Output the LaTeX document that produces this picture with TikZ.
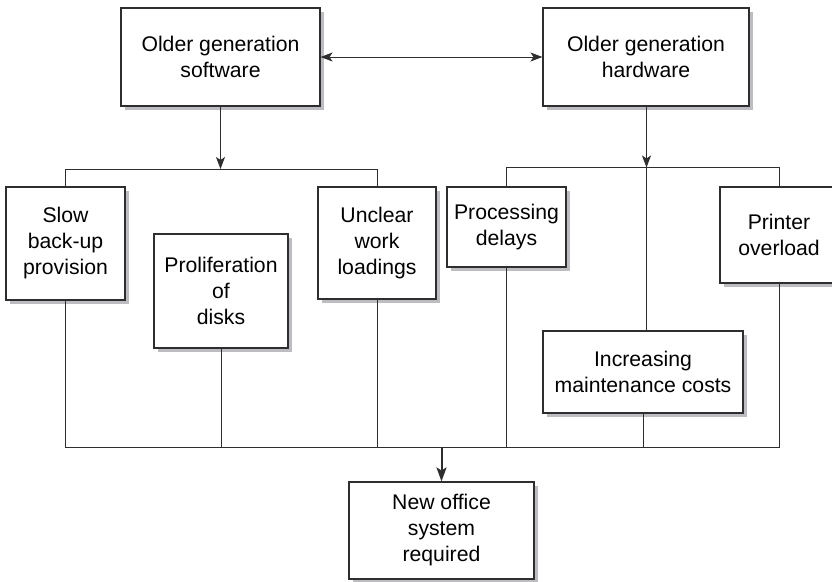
\documentclass[tikz,border=0pt]{standalone}
\usepackage{fontspec}
\setmainfont{Liberation Sans}
\usetikzlibrary{arrows.meta,shadows}
\definecolor{shade}{HTML}{BDBDC1}
\definecolor{ink}{HTML}{2E2E2E}
\tikzset{
  box/.style={draw=ink, line width=1.1pt, fill=white, inner sep=0pt, align=center,
    font=\fontsize{21.2}{26}\selectfont,
    general shadow={fill=shade, shadow xshift=4pt, shadow yshift=-4pt}},
  wire/.style={draw=ink, line width=1pt},
  tip/.style={wire, -{Stealth[length=12pt,width=9pt,inset=3pt]}},
  twotip/.style={wire, {Stealth[length=12pt,width=9pt,inset=3pt]}-{Stealth[length=12pt,width=9pt,inset=3pt]}},
  boldtip/.style={draw=ink, line width=2pt, -{Stealth[length=14pt,width=10pt,inset=3pt]}}
}
\begin{document}
\begin{tikzpicture}[x=1pt,y=-1pt]
\useasboundingbox (0,0) rectangle (832,581);
\clip (0,0) rectangle (832,581);

% causes at the top
\node[box, minimum width=199pt, minimum height=98pt] (sw) at (220.5,57) {Older generation\\software};
\node[box, minimum width=206pt, minimum height=98pt] (hw) at (646,57) {Older generation\\hardware};

% software problems
\node[box, minimum width=119pt, minimum height=113pt] (slow) at (65.5,243.5) {Slow\\back-up\\provision};
\node[box, minimum width=134pt, minimum height=114pt] (prol) at (221,291) {Proliferation\\of\\disks};
\node[box, minimum width=118pt, minimum height=112pt] (uncl) at (377,243) {Unclear\\work\\loadings};

% hardware problems
\node[box, minimum width=119pt, minimum height=80pt] (proc) at (506.5,227) {Processing\\delays};
\node[box, minimum width=200pt, minimum height=82pt] (incr) at (643,372) {Increasing\\maintenance costs};
\node[box, minimum width=118pt, minimum height=96pt] (prnt) at (779,235) {Printer\\overload};

% outcome
\node[box, minimum width=185pt, minimum height=97pt] (new) at (441.5,530.5) {New office\\system\\required};

% junction points
\coordinate (jl) at (220.5,169);
\coordinate (jr) at (646.5,167.5);
\coordinate (jb) at (441.5,447);

% link between the two causes
\draw[twotip] (sw.east) -- (hw.west);

% software branch
\draw[tip] (sw.south) -- (jl);
\draw[wire] (slow.north) |- (uncl.north |- jl) -- (uncl.north);

% hardware branch
\draw[tip] (hw.south -| jr) -- (jr);
\draw[wire] (proc.north) |- (prnt.north |- jr) -- (prnt.north);
\draw[wire] (jr) -- (jr |- incr.north);

% collecting bar
\draw[wire] (slow.south) |- (prnt.south |- jb) -- (prnt.south);
\draw[wire] (prol.south) -- (prol.south |- jb);
\draw[wire] (uncl.south) -- (uncl.south |- jb);
\draw[wire] (proc.south) -- (proc.south |- jb);
\draw[wire] (incr.south) -- (incr.south |- jb);
\draw[boldtip] (jb) -- (new.north);
\end{tikzpicture}
\end{document}
